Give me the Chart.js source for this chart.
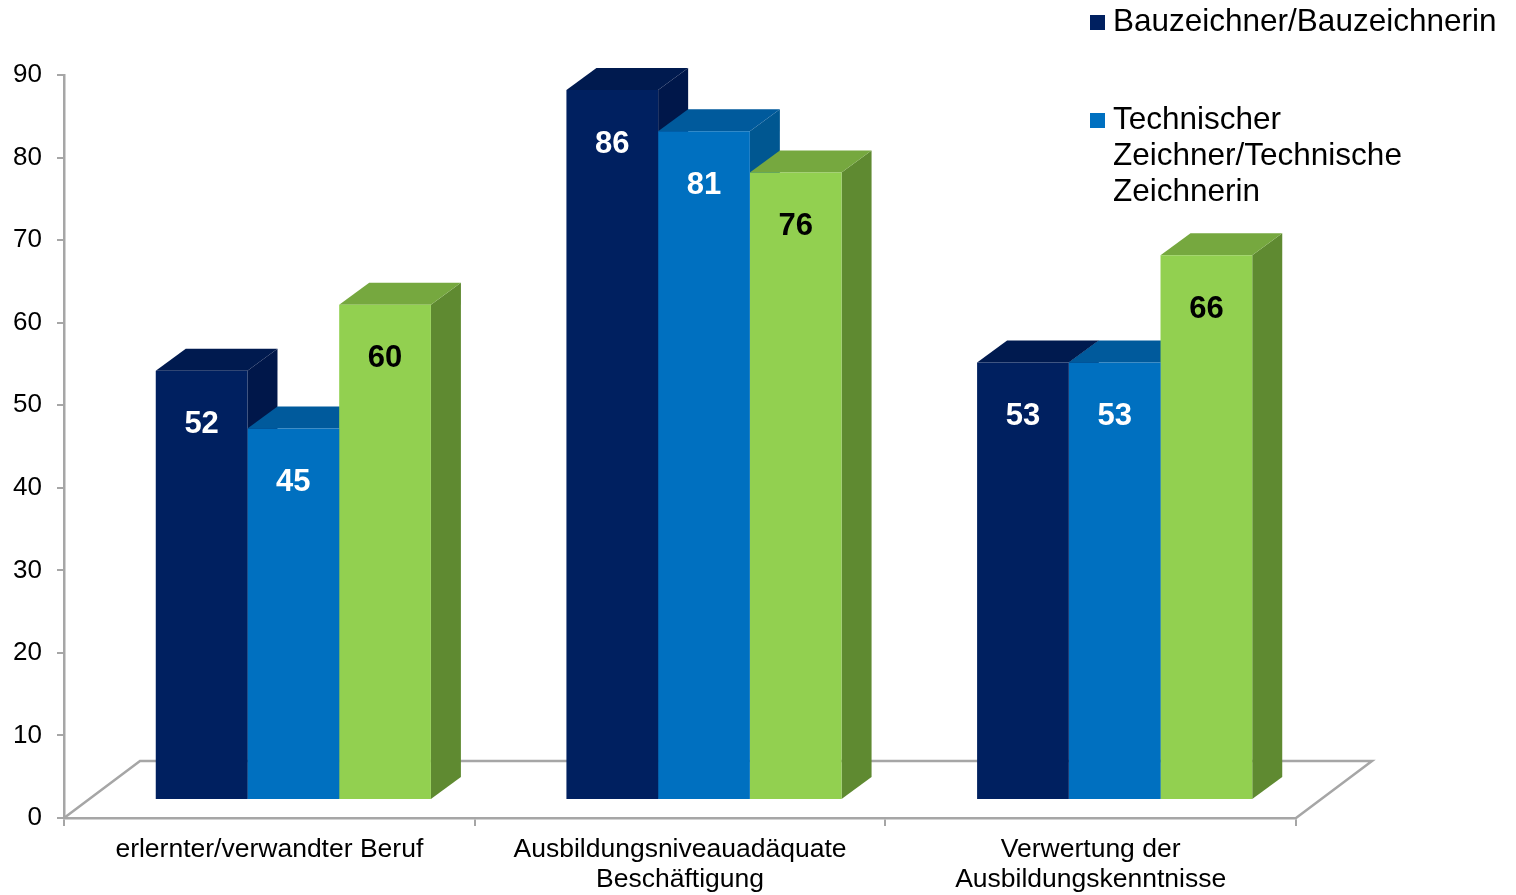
<!DOCTYPE html>
<html lang="de">
<head>
  <meta charset="UTF-8">
  <title>Zeichnerberufe</title>
  <script src="https://cdn.jsdelivr.net/npm/chart.js"></script>
  <style>
    body { margin: 0; background: #fff; }
  </style>
</head>
<body>
  <canvas id="chart" width="1516" height="895"></canvas>

  <script>
    const categories = [
      'erlernter/verwandter Beruf',
      ['Ausbildungsniveauadäquate', 'Beschäftigung'],
      ['Verwertung der', 'Ausbildungskenntnisse']
    ];
    const seriesNames = ['Bauzeichner/Bauzeichnerin', 'Technischer Zeichner/Technische Zeichnerin', ''];
    const legendLines = [['Bauzeichner/Bauzeichnerin'], ['Technischer', 'Zeichner/Technische', 'Zeichnerin']];
    const bauzeichner = [52, 86, 53];
    const technischer = [45, 81, 53];
    const dritteReihe = [60, 76, 66];
    const yMin = 0, yMax = 90, yStep = 10;

    const frontColors = ['#002060', '#0070C0', '#92D050'];
    const topColors = ['#001a4f', '#005a9c', '#76a83f'];
    const sideColors = ['#00174a', '#005791', '#5f8a31'];
    const labelColors = ['#fff', '#fff', '#000'];

    // 3d offsets (px)
    const FRONT = { x: 24, y: -18 };
    const DEPTH = { x: 30, y: -22 };
    const FLOOR = { x: 76, y: -57 };
    const GREY = '#a6a6a6';

    const bars3d = {
      id: 'bars3d',
      beforeDatasetsDraw(chart) {
        const ctx = chart.ctx, area = chart.chartArea;
        const y0 = chart.scales.y.getPixelForValue(0);
        ctx.save();
        ctx.strokeStyle = GREY;
        ctx.lineWidth = 2.5;
        ctx.beginPath();
        ctx.moveTo(area.left, y0);
        ctx.lineTo(area.left + FLOOR.x, y0 + FLOOR.y);
        ctx.lineTo(area.right + FLOOR.x, y0 + FLOOR.y);
        ctx.lineTo(area.right, y0);
        ctx.stroke();

        // sides + tops first, fronts are drawn by chart.js afterwards
        for (let j = 0; j < chart.data.labels.length; j++) {
          chart.data.datasets.forEach((ds, i) => {
            const b = chart.getDatasetMeta(i).data[j];
            const l = b.x - b.width / 2 + FRONT.x, r = b.x + b.width / 2 + FRONT.x;
            const t = b.y + FRONT.y, bot = b.base + FRONT.y;
            ctx.fillStyle = sideColors[i];
            ctx.beginPath();
            ctx.moveTo(r, t);
            ctx.lineTo(r + DEPTH.x, t + DEPTH.y);
            ctx.lineTo(r + DEPTH.x, bot + DEPTH.y);
            ctx.lineTo(r, bot);
            ctx.closePath();
            ctx.fill();
            ctx.fillStyle = topColors[i];
            ctx.beginPath();
            ctx.moveTo(l, t);
            ctx.lineTo(l + DEPTH.x, t + DEPTH.y);
            ctx.lineTo(r + DEPTH.x, t + DEPTH.y);
            ctx.lineTo(r, t);
            ctx.closePath();
            ctx.fill();
          });
        }
        ctx.restore();
        ctx.save();
        ctx.translate(FRONT.x, FRONT.y);
      },
      afterDatasetsDraw(chart) {
        const ctx = chart.ctx;
        ctx.restore();
        ctx.save();
        ctx.font = 'bold 31px Arial';
        ctx.textAlign = 'center';
        ctx.textBaseline = 'middle';
        chart.data.datasets.forEach((ds, i) => {
          chart.getDatasetMeta(i).data.forEach((b, j) => {
            ctx.fillStyle = labelColors[i];
            ctx.fillText(ds.data[j], b.x + FRONT.x, b.y + FRONT.y + 54);
          });
        });
        ctx.restore();
      }
    };

    const sideLegend = {
      id: 'sideLegend',
      afterDraw(chart) {
        const ctx = chart.ctx;
        const rowY = [22, 120];
        ctx.save();
        ctx.font = '31.5px Arial';
        ctx.textBaseline = 'middle';
        legendLines.forEach((lines, i) => {
          ctx.fillStyle = frontColors[i];
          ctx.fillRect(1090, rowY[i] - 7, 15, 15);
          ctx.fillStyle = '#000';
          lines.forEach((line, k) => ctx.fillText(line, 1113, rowY[i] + k * 36));
        });
        ctx.restore();
      }
    };

    new Chart(document.getElementById('chart'), {
      type: 'bar',
      data: {
        labels: categories,
        datasets: [
          { label: seriesNames[0], data: bauzeichner, backgroundColor: frontColors[0] },
          { label: seriesNames[1], data: technischer, backgroundColor: frontColors[1] },
          { label: seriesNames[2], data: dritteReihe, backgroundColor: frontColors[2] }
        ]
      },
      options: {
        responsive: false,
        animation: false,
        categoryPercentage: 0.67,
        barPercentage: 1,
        clip: false,
        layout: { padding: { left: 0, right: 220, top: 75, bottom: 0 } },
        plugins: {
          legend: { display: false },
          tooltip: { enabled: false }
        },
        scales: {
          x: {
            grid: { display: true, drawOnChartArea: false, tickLength: 8, color: GREY, lineWidth: 2 },
            border: { display: true, color: GREY, width: 2.5 },
            ticks: { font: { family: 'Arial', size: 26.5, lineHeight: 1.15 }, color: '#000', padding: 8, maxRotation: 0, autoSkip: false },
            afterFit: s => { s.height = 77; }
          },
          y: {
            min: yMin,
            max: yMax,
            grid: { display: true, drawOnChartArea: false, tickLength: 7, color: GREY, lineWidth: 2 },
            border: { display: true, color: GREY, width: 2.5 },
            ticks: { stepSize: yStep, font: { family: 'Arial', size: 26 }, color: '#000', padding: 15 },
            afterFit: s => { s.width = 64; }
          }
        }
      },
      plugins: [bars3d, sideLegend]
    });
  </script>
</body>
</html>
